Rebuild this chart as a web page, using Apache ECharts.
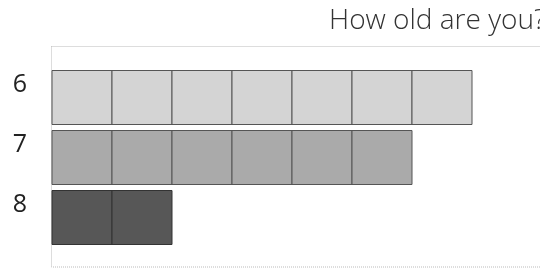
<!DOCTYPE html>
<html><head><meta charset="utf-8">
<script src="https://cdn.jsdelivr.net/npm/echarts@6/dist/echarts.min.js"></script>
<style>html,body{margin:0;padding:0;background:#fff}#c{width:540px;height:268px}</style>
</head><body><div id="c"></div>
<script>
const categories = ['6', '7', '8'];
const counts = [7, 6, 2];
const rowColors = ['#d4d4d4', '#aaaaaa', '#575757'];
const titleText = 'How old are you?';

const chart = echarts.init(document.getElementById('c'), null, {renderer: 'canvas'});
const data = counts.map((v, i) => [v, i]);
chart.setOption({
  animation: false,
  title: {
    text: titleText, left: 324, top: 2,
    textStyle: {fontFamily: 'Open Sans', fontWeight: 300, fontSize: 28, color: '#333'}
  },
  grid: [
    {left: 52, top: 67.5, height: 180, width: 540, outerBoundsMode: 'none', containLabel: false},
    {left: 51.5, top: 46.5, width: 540, bottom: 1, outerBoundsMode: 'none', show: true, borderColor: '#bbb', borderType: 'dotted', borderWidth: 1}
  ],
  xAxis: [
    {type: 'value', min: 0, max: 9, gridIndex: 0, show: false},
    {type: 'value', gridIndex: 1, show: false}
  ],
  yAxis: [
    {type: 'category', data: categories, inverse: true, gridIndex: 0,
     axisLine: {show: false}, axisTick: {show: false}, splitLine: {show: false},
     axisLabel: {fontFamily: 'Open Sans', fontSize: 25, color: '#222', margin: 25, verticalAlign: 'bottom', lineHeight: 26}},
    {type: 'value', gridIndex: 1, show: false}
  ],
  series: [{
    type: 'custom',
    xAxisIndex: 0, yAxisIndex: 0,
    data: data,
    renderItem: function (params, api) {
      const n = api.value(0);
      const cat = api.value(1);
      const h = api.size([0, 1])[1] * 0.9;
      const children = [];
      for (let k = 0; k < n; k++) {
        const p0 = api.coord([k, cat]);
        const p1 = api.coord([k + 1, cat]);
        children.push({
          type: 'rect',
          shape: {x: p0[0], y: p0[1] - h / 2, width: p1[0] - p0[0], height: h},
          style: {fill: rowColors[cat], stroke: cat === 2 ? '#333' : '#555', lineWidth: 1}
        });
      }
      return {type: 'group', children: children};
    }
  }]
});
</script></body></html>
